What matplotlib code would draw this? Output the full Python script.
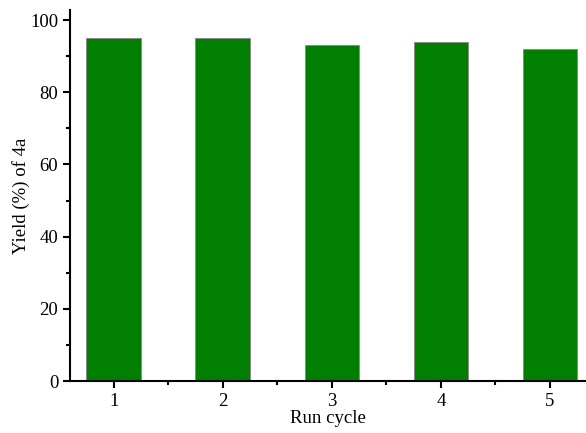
import matplotlib.pyplot as plt
from matplotlib.ticker import MultipleLocator

cycles = [1, 2, 3, 4, 5]
yields = [95, 95, 93, 94, 92]

plt.rcParams["font.family"] = ["Liberation Serif", "DejaVu Serif"]
plt.rcParams["font.size"] = 13.5

fig = plt.figure(figsize=(5.86, 4.33), dpi=100)
ax = fig.add_axes([0.1195, 0.12, 0.8805, 0.857])

ax.bar(cycles, yields, width=0.5, color="#007f00", edgecolor="#888888", linewidth=0.6)

ax.set_xlim(0.6, 5.33)
ax.set_ylim(0, 102.8)
ax.set_xticks(cycles)
ax.xaxis.set_minor_locator(MultipleLocator(0.5))
ax.yaxis.set_major_locator(MultipleLocator(20))
ax.yaxis.set_minor_locator(MultipleLocator(10))

for s in ["top", "right"]:
    ax.spines[s].set_visible(False)
for s in ["left", "bottom"]:
    ax.spines[s].set_linewidth(1.5)

ax.tick_params(which="major", direction="out", length=5, width=1.5)
ax.tick_params(which="minor", direction="out", length=3, width=1.5)

ax.set_xlabel("Run cycle", labelpad=0)
ax.set_ylabel("Yield (%) of 4a", labelpad=0)

fig.savefig("out.png", dpi=100)
